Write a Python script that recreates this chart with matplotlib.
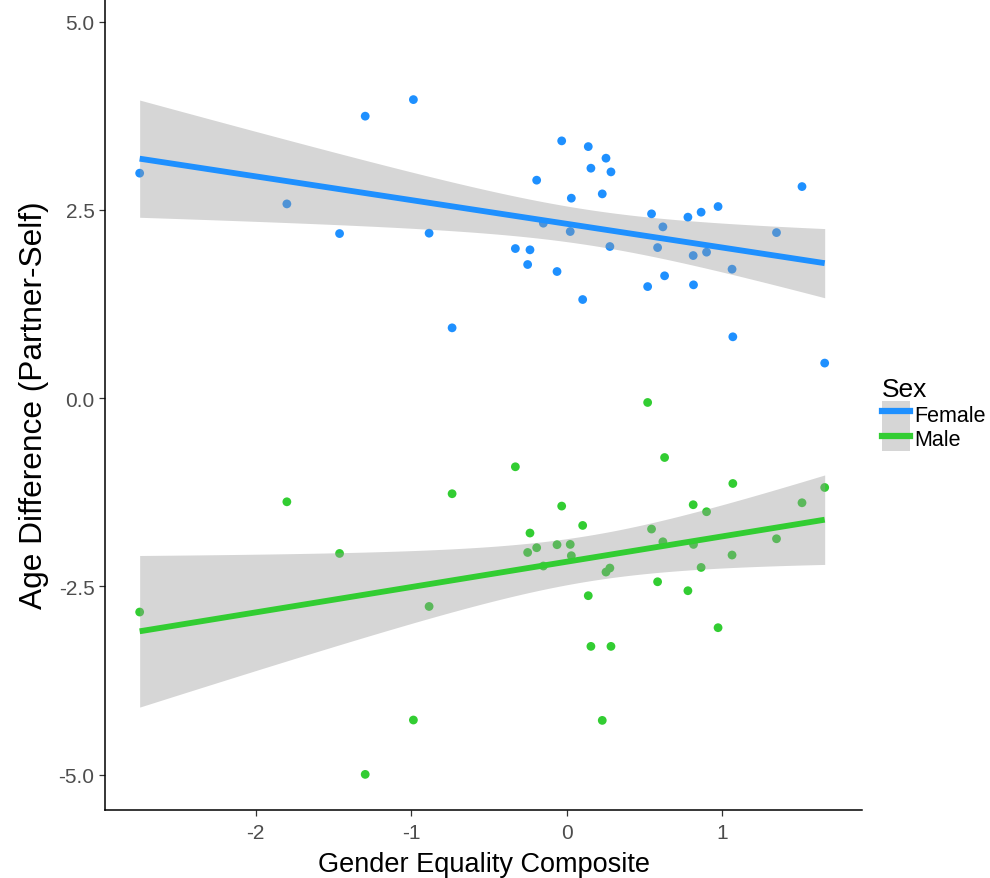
import numpy as np
import matplotlib
matplotlib.use("Agg")
import matplotlib.pyplot as plt
from matplotlib.patches import Patch
from matplotlib.lines import Line2D

plt.rcParams['font.family'] = ['Liberation Sans', 'DejaVu Sans']

# Gender Equality Composite (shared by both sexes)
composite = [-2.747, -1.800, -1.461, -1.296, -0.986, -0.885, -0.737, -0.330, -0.251,
             -0.236, -0.193, -0.150, -0.062, -0.032, 0.023, 0.030, 0.103, 0.139,
             0.156, 0.229, 0.253, 0.278, 0.285, 0.521, 0.546, 0.585, 0.619, 0.630,
             0.780, 0.814, 0.816, 0.865, 0.900, 0.974, 1.064, 1.069, 1.350, 1.514, 1.660]
female_diff = [2.987, 2.579, 2.185, 3.744, 3.964, 2.190, 0.933, 1.986, 1.774,
               1.969, 2.894, 2.323, 1.681, 3.416, 2.212, 2.655, 1.309, 3.340,
               3.053, 2.712, 3.186, 2.013, 3.004, 1.481, 2.447, 1.999, 2.274, 1.624,
               2.403, 1.893, 1.504, 2.469, 1.938, 2.544, 1.712, 0.814, 2.198, 2.809, 0.465]
male_diff = [-2.841, -1.377, -2.063, -4.997, -4.275, -2.767, -1.270, -0.912, -2.050,
             -1.792, -1.987, -2.230, -1.947, -1.434, -1.943, -2.093, -1.691, -2.624,
             -3.297, -4.280, -2.310, -2.257, -3.297, -0.058, -1.739, -2.439, -1.908, -0.789,
             -2.558, -1.416, -1.943, -2.249, -1.509, -3.049, -2.084, -1.134, -1.868, -1.390, -1.187]

sexes = ["Female", "Male"]
colors = {"Female": "#1E90FF", "Male": "#32CD32"}
x_ticks = [-2, -1, 0, 1]
y_ticks = [-5.0, -2.5, 0.0, 2.5, 5.0]
T975 = 2.026  # t quantile, df = 37

fig = plt.figure(figsize=(9.9, 8.79), dpi=100)
ax = fig.add_axes([105 / 990, 1 - 811 / 879, (862 - 105) / 990, 811 / 879])

x = np.array(composite)
series = {"Female": np.array(female_diff), "Male": np.array(male_diff)}

# points first (ggplot draws ribbon over them)
for s in sexes:
    ax.scatter(x, series[s], s=40, color=colors[s], edgecolors='none', zorder=2)

xs = np.linspace(x.min(), x.max(), 200)
for s in sexes:
    y = series[s]
    n = len(x)
    b, a = np.polyfit(x, y, 1)
    resid = y - (a + b * x)
    sig = np.sqrt(np.sum(resid ** 2) / (n - 2))
    sxx = np.sum((x - x.mean()) ** 2)
    fit = a + b * xs
    se = sig * np.sqrt(1 / n + (xs - x.mean()) ** 2 / sxx)
    ax.fill_between(xs, fit - T975 * se, fit + T975 * se, color='#999999', alpha=0.4,
                    linewidth=0, zorder=3)
    ax.plot(xs, fit, color=colors[s], linewidth=4.2, solid_capstyle='butt', zorder=4)

ax.set_xlim(-2.97, 1.90)
ax.set_ylim(-5.47, 5.30)
ax.set_xticks(x_ticks)
ax.set_xticklabels([str(t) for t in x_ticks])
ax.set_yticks(y_ticks)
ax.set_yticklabels([f"{t:.1f}" for t in y_ticks])

for side in ['top', 'right']:
    ax.spines[side].set_visible(False)
for side in ['left', 'bottom']:
    ax.spines[side].set_color('black')
    ax.spines[side].set_linewidth(1.1)
ax.tick_params(axis='both', length=4.5, width=0.9, color='#333333',
               labelsize=15, labelcolor='#4D4D4D', pad=3)
ax.tick_params(axis='x', pad=5)

ax.set_xlabel("Gender Equality Composite", fontsize=19.5, color='black', labelpad=6)
ax.set_ylabel("Age Difference (Partner-Self)", fontsize=22.8, color='black', labelpad=7)

handles = [(Patch(facecolor='#D6D6D6', edgecolor='none'),
            Line2D([], [], color=colors[s], linewidth=4.5)) for s in sexes]
leg = fig.legend(handles, sexes, loc='upper left', bbox_to_anchor=(882 / 990, 1 - 378 / 879),
                 frameon=False, title="Sex", alignment='left', fontsize=15.5,
                 title_fontsize=19, handlelength=1.3, handleheight=1.4,
                 labelspacing=0.0, handletextpad=0.2, borderaxespad=0, borderpad=0)

fig.savefig("out.png", dpi=100, facecolor='white')
